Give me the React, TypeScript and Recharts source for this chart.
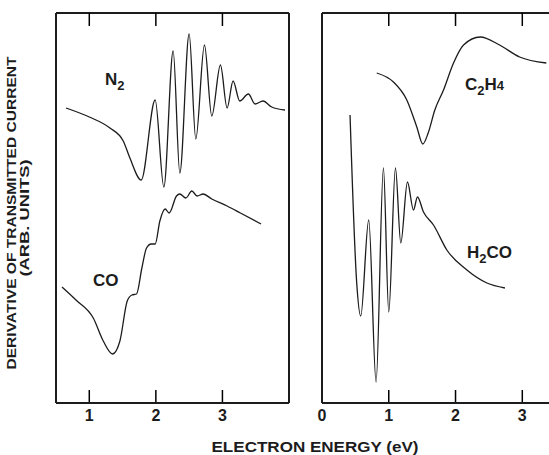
import React from "react";
import { LineChart, Line, XAxis, YAxis, ReferenceLine } from "recharts";

// energies in eV, signal in arbitrary units (height above the bottom axis)
const n2Energy = [0.65, 1.0, 1.31, 1.51, 1.61, 1.78, 1.99, 2.12, 2.26, 2.36, 2.5, 2.6, 2.73, 2.84, 2.97, 3.07, 3.16, 3.26, 3.39, 3.49, 3.61, 3.74, 3.94];
const n2Signal = [295, 286, 275, 262, 245, 223, 303, 216, 352, 230, 369, 264, 358, 287, 338, 295, 322, 302, 309, 299, 302, 296, 293];

const coEnergy = [0.59, 0.8, 1.06, 1.21, 1.35, 1.46, 1.57, 1.64, 1.71, 1.79, 1.86, 1.93, 1.99, 2.06, 2.14, 2.2, 2.31, 2.36, 2.45, 2.54, 2.62, 2.71, 2.84, 3.07, 3.27, 3.58];
const coSignal = [116, 103, 85, 62, 49, 62, 102, 108, 109, 135, 155, 159, 159, 182, 194, 190, 207, 209, 205, 212, 207, 209, 204, 197, 190, 179];

const c2h4Energy = [0.82, 1.07, 1.27, 1.42, 1.51, 1.59, 1.69, 1.82, 1.97, 2.12, 2.37, 2.66, 2.96, 3.36];
const c2h4Signal = [330, 321, 303, 276, 259, 270, 293, 313, 340, 358, 366, 358, 346, 340];

const h2coEnergy = [0.42, 0.52, 0.58, 0.7, 0.81, 0.92, 1.0, 1.1, 1.18, 1.28, 1.37, 1.43, 1.52, 1.67, 1.87, 2.17, 2.47, 2.74];
const h2coSignal = [288, 120, 87, 183, 21, 235, 91, 235, 160, 221, 193, 206, 191, 178, 153, 133, 120, 115];

const leftTicks = [1, 2, 3];
const rightTicks = [0, 1, 2, 3];
const markTicks = [1, 2, 3];

const toRows = (e: number[], s: number[]) => e.map((x, i) => ({ e: x, v: s[i] }));

const ink = "#1c1c1c";
const font = "'Liberation Sans', Arial, sans-serif";
const markLen = 13; // y units == px here (390 units over 390 px)

const BottomTick = (props: any) => {
  const { x, y, payload } = props;
  return (
    <text x={x} y={y + 18} textAnchor="middle" fill={ink} fontSize={16} fontWeight={700} fontFamily={font}>
      {payload.value}
    </text>
  );
};

const TopTick = (props: any) => {
  const { x, y } = props;
  return <path d={`M${x},${y}V${y + 13}`} stroke="#000" strokeWidth={1.5} fill="none" />;
};

// axes are 1px thick boxes so recharts still draws them; margins are reduced by that 1px
function Panel({ left, width, marginLeft, marginRight, domain, bottomTicks, rightBorder, series }: any) {
  return (
    <div style={{ position: "absolute", left, top: 0 }}>
      <LineChart width={width} height={455} margin={{ top: 12, right: marginRight, bottom: 51, left: marginLeft }}>
        <XAxis
          xAxisId="b"
          dataKey="e"
          type="number"
          domain={domain}
          allowDataOverflow
          ticks={bottomTicks}
          interval={0}
          height={1}
          tickSize={0}
          tickMargin={0}
          tick={BottomTick}
          tickLine={false}
          axisLine={{ stroke: ink, strokeWidth: 2 }}
        />
        <XAxis
          xAxisId="t"
          orientation="top"
          dataKey="e"
          type="number"
          domain={domain}
          allowDataOverflow
          ticks={markTicks}
          interval={0}
          height={1}
          tickSize={0}
          tickMargin={0}
          tick={TopTick}
          tickLine={false}
          axisLine={{ stroke: ink, strokeWidth: 2 }}
        />
        <YAxis yAxisId="l" width={1} domain={[0, 390]} tick={false} tickLine={false} axisLine={{ stroke: ink, strokeWidth: 2 }} />
        {rightBorder && (
          <YAxis yAxisId="r" orientation="right" width={1} domain={[0, 390]} tick={false} tickLine={false} axisLine={{ stroke: ink, strokeWidth: 2 }} />
        )}
        {markTicks.map((t) => (
          <ReferenceLine
            key={`m${t}`}
            xAxisId="b"
            yAxisId="l"
            segment={[{ x: t, y: 0 }, { x: t, y: markLen }]}
            stroke="#000"
            strokeWidth={1.5}
            ifOverflow="visible"
          />
        ))}
        {series.map((s: any) => (
          <Line
            key={s.name}
            xAxisId="b"
            yAxisId="l"
            data={s.rows}
            dataKey="v"
            type="monotone"
            stroke={ink}
            strokeWidth={1.3}
            dot={false}
            isAnimationActive={false}
          />
        ))}
      </LineChart>
    </div>
  );
}

export default function App() {
  const big = { fontSize: 17, fontWeight: 700, fontFamily: font, fill: ink };
  const small = { fontSize: 13, fontWeight: 700, fontFamily: font, fill: ink };
  const title = { fontSize: 13, fontWeight: 700, fontFamily: font, fill: ink };
  return (
    <div style={{ position: "absolute", left: 0, top: 0, width: 549, height: 455, background: "#fff", overflow: "hidden" }}>
      <Panel
        left={0}
        width={300}
        marginLeft={55}
        marginRight={10}
        domain={[0.5, 4]}
        bottomTicks={leftTicks}
        rightBorder
        series={[
          { name: "N2", rows: toRows(n2Energy, n2Signal) },
          { name: "CO", rows: toRows(coEnergy, coSignal) },
        ]}
      />
      <Panel
        left={300}
        width={249}
        marginLeft={21}
        marginRight={0}
        domain={[0, 3.4]}
        bottomTicks={rightTicks}
        rightBorder={false}
        series={[
          { name: "C2H4", rows: toRows(c2h4Energy, c2h4Signal) },
          { name: "H2CO", rows: toRows(h2coEnergy, h2coSignal) },
        ]}
      />
      <svg width={549} height={455} style={{ position: "absolute", left: 0, top: 0, pointerEvents: "none" }}>
        <text x={105} y={85} style={big}>
          N<tspan style={small} dy={5}>2</tspan>
        </text>
        <text x={93} y={286} style={big}>CO</text>
        <text x={465} y={90} style={big}>
          C<tspan style={small} dy={5}>2</tspan>
          <tspan dy={-5}>H</tspan>
          <tspan style={small}>4</tspan>
        </text>
        <text x={467} y={258} style={big}>
          H<tspan style={small} dy={5}>2</tspan>
          <tspan dy={-5}>CO</tspan>
        </text>
        <text x={0} y={0} transform="translate(16,213) rotate(-90)" textAnchor="middle" textLength={313} lengthAdjust="spacingAndGlyphs" style={title}>
          DERIVATIVE OF TRANSMITTED CURRENT
        </text>
        <text x={0} y={0} transform="translate(29,218) rotate(-90)" textAnchor="middle" textLength={117} lengthAdjust="spacingAndGlyphs" style={title}>
          (ARB. UNITS)
        </text>
        <text x={315} y={452} textAnchor="middle" textLength={207} lengthAdjust="spacingAndGlyphs" style={{ ...title, fontSize: 15 }}>
          ELECTRON ENERGY (eV)
        </text>
      </svg>
    </div>
  );
}
